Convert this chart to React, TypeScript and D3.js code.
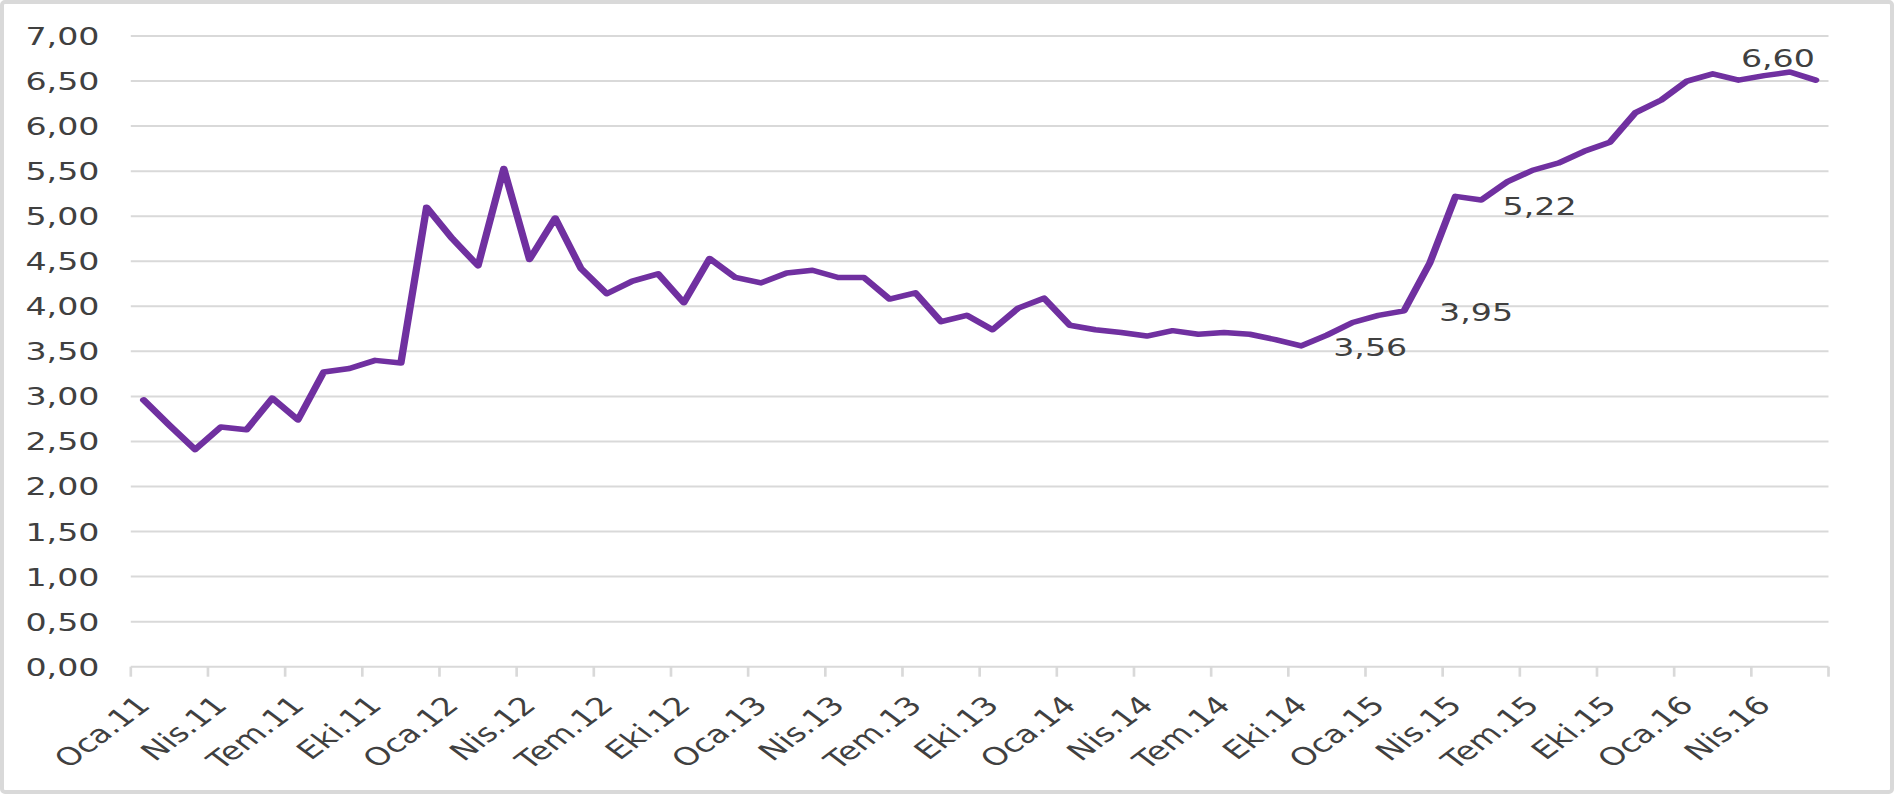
import * as d3 from "d3";
import { useEffect, useRef } from "react";

// Turkish month abbreviations and years for the category axis
const monthNames = ["Oca", "Şub", "Mar", "Nis", "May", "Haz", "Tem", "Ağu", "Eyl", "Eki", "Kas", "Ara"];
const years = ["11", "12", "13", "14", "15", "16"];
const lastMonthOf16 = 6; // series stops at Haz.16

const categories: string[] = [];
years.forEach((yy, yi) => {
  const n = yi === years.length - 1 ? lastMonthOf16 : 12;
  for (let m = 0; m < n; m++) categories.push(`${monthNames[m]}.${yy}`);
});

// monthly values (Oca.11 .. Haz.16)
const values = [
  2.96, 2.68, 2.41, 2.66, 2.63, 2.98, 2.74, 3.27, 3.31, 3.40, 3.37, 5.10,
  4.75, 4.45, 5.53, 4.52, 4.98, 4.42, 4.14, 4.28, 4.36, 4.04, 4.53, 4.32,
  4.26, 4.37, 4.40, 4.32, 4.32, 4.08, 4.15, 3.83, 3.90, 3.74, 3.98, 4.09,
  3.79, 3.74, 3.71, 3.67, 3.73, 3.69, 3.71, 3.69, 3.63, 3.56, 3.68, 3.82,
  3.90, 3.95, 4.48, 5.22, 5.18, 5.38, 5.51, 5.59, 5.72, 5.82, 6.15, 6.29,
  6.50, 6.58, 6.51, 6.56, 6.60, 6.51,
];

const yTicks = [0, 0.5, 1, 1.5, 2, 2.5, 3, 3.5, 4, 4.5, 5, 5.5, 6, 6.5, 7];

// months that carry a value label
const labelled = ["Eki.14", "Şub.15", "Nis.15", "May.16"];

const fmt = (v: number) => v.toFixed(2).replace(".", ",");

const App = () => {
  const svgRef = useRef<SVGSVGElement>(null);

  useEffect(() => {
    if (!svgRef.current) return;
    const W = 1894;
    const H = 794;
    // the reference is horizontally stretched, so draw in a narrower space and scale up
    const SX = 1.33;
    const font = "'DejaVu Sans', Verdana, sans-serif";
    const textColor = "#404040";
    const gridColor = "#d9d9d9";

    const root = d3.select(svgRef.current);
    root.selectAll("*").remove();
    root.attr("width", W).attr("height", H);

    root.append("rect")
      .attr("width", W).attr("height", H).attr("fill", "#fff");
    root.append("rect")
      .attr("x", 2).attr("y", 2).attr("width", W - 4).attr("height", H - 4)
      .attr("rx", 3)
      .attr("fill", "none").attr("stroke", gridColor).attr("stroke-width", 4);

    const g = root.append("g").attr("transform", `scale(${SX},1)`);

    const x = d3.scaleBand<string>()
      .domain(categories)
      .range([130.8 / SX, 1828.5 / SX]);
    const bw = x.bandwidth();
    const cx = (c: string) => (x(c) ?? 0) + bw / 2;

    const y = d3.scaleLinear().domain([0, 7]).range([666.7, 36]);

    const [x0, x1] = x.range();

    // gridlines
    g.selectAll(".grid")
      .data(yTicks)
      .join("line")
      .attr("x1", x0).attr("x2", x1)
      .attr("y1", d => y(d)).attr("y2", d => y(d))
      .attr("stroke", gridColor).attr("stroke-width", 2);

    // y labels
    g.selectAll(".ylab")
      .data(yTicks)
      .join("text")
      .attr("x", 99.5 / SX)
      .attr("y", d => y(d) + 9)
      .attr("text-anchor", "end")
      .attr("font-family", font).attr("font-size", 25)
      .attr("fill", textColor)
      .text(d => fmt(d));

    // x tick marks every 3 months
    const tickIdx = d3.range(0, categories.length + 1, 3);
    g.selectAll(".xtick")
      .data(tickIdx)
      .join("line")
      .attr("x1", d => x0 + d * bw).attr("x2", d => x0 + d * bw)
      .attr("y1", y(0)).attr("y2", y(0) + 10)
      .attr("stroke", gridColor).attr("stroke-width", 2);

    // x labels
    const labelCats = categories.filter((_, i) => i % 3 === 0);
    g.selectAll(".xlab")
      .data(labelCats)
      .join("text")
      .attr("transform", d => `translate(${cx(d) + 8 / SX},${y(0) + 40}) rotate(-45)`)
      .attr("text-anchor", "end")
      .attr("font-family", font).attr("font-size", 25)
      .attr("fill", textColor)
      .text(d => d);

    // series line
    const line = d3.line<number>()
      .x((_, i) => cx(categories[i]))
      .y(d => y(d));
    g.append("path")
      .datum(values)
      .attr("d", line)
      .attr("fill", "none")
      .attr("stroke", "#7030a0")
      .attr("stroke-width", 5.5)
      .attr("stroke-linejoin", "round")
      .attr("stroke-linecap", "round");

    // value labels (offsets in screen px)
    const offsets: Record<string, { dx: number; dy: number; anchor: string }> = {
      "Eki.14": { dx: 32, dy: 10.5, anchor: "start" },
      "Şub.15": { dx: 35, dy: 10.7, anchor: "start" },
      "Nis.15": { dx: 47, dy: 18.6, anchor: "start" },
      "May.16": { dx: -12, dy: -5.5, anchor: "middle" },
    };
    g.selectAll(".vlab")
      .data(labelled)
      .join("text")
      .attr("x", d => cx(d) + offsets[d].dx / SX)
      .attr("y", d => y(values[categories.indexOf(d)]) + offsets[d].dy)
      .attr("text-anchor", d => offsets[d].anchor)
      .attr("font-family", font).attr("font-size", 25)
      .attr("fill", textColor)
      .text(d => fmt(values[categories.indexOf(d)]));
  }, []);

  return (
    <svg
      ref={svgRef}
      style={{ position: "absolute", left: 0, top: 0, display: "block" }}
    />
  );
};

export default App;
